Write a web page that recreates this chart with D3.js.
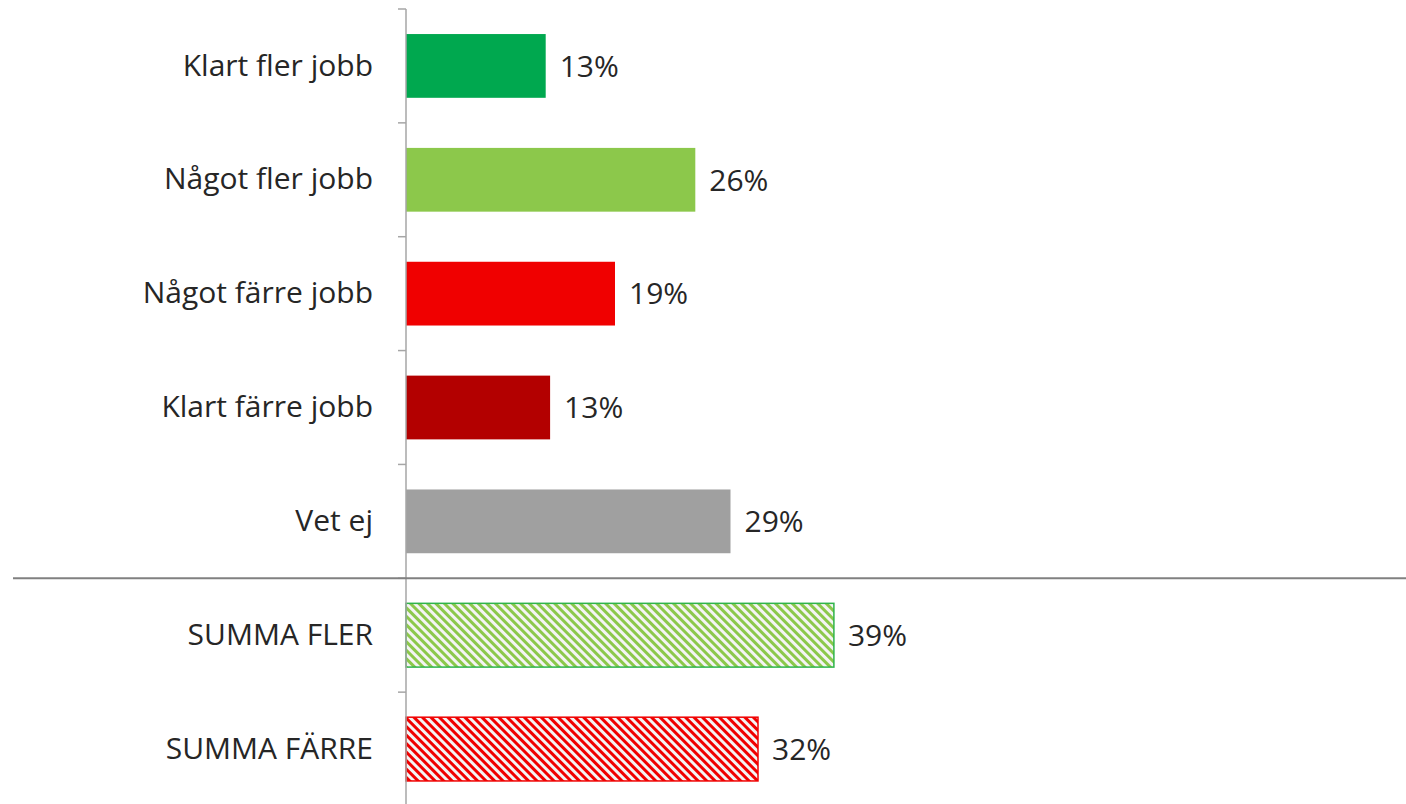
<!DOCTYPE html>
<html>
<head>
<meta charset="utf-8">
<script src="https://cdn.jsdelivr.net/npm/d3@7"></script>
<style>
  body { margin: 0; background: #fff; }
  text { font-family: "Open Sans", "Noto Sans", sans-serif; fill: #262626; }
</style>
</head>
<body>
<div id="chart"></div>
<script>
const categories = ["Klart fler jobb", "Något fler jobb", "Något färre jobb", "Klart färre jobb", "Vet ej", "SUMMA FLER", "SUMMA FÄRRE"];
const values = [12.7, 26.3, 19.0, 13.1, 29.5, 38.9, 32.0];
const valueLabels = ["13%", "26%", "19%", "13%", "29%", "39%", "32%"];
const fills = ["#00a84f", "#8cc84b", "#f00000", "#b30000", "#a0a0a0", "url(#hatchGreen)", "url(#hatchRed)"];
const strokes = ["none", "none", "none", "none", "none", "#2fb44a", "#f00000"];

const width = 1406;
const height = 804;

const svg = d3.select("#chart")
    .append("svg")
    .attr("width", width)
    .attr("height", height);

const defs = svg.append("defs");
function hatch(id, color) {
    const p = defs.append("pattern")
        .attr("id", id)
        .attr("patternUnits", "userSpaceOnUse")
        .attr("width", 6)
        .attr("height", 6)
        .attr("patternTransform", "rotate(-45)");
    p.append("rect").attr("width", 6).attr("height", 6).attr("fill", "#f4f4f4");
    p.append("rect").attr("width", 3).attr("height", 6).attr("fill", color);
}
hatch("hatchGreen", "#8cc84b");
hatch("hatchRed", "#f00000");

const axisX = 406;

const y = d3.scaleBand()
    .domain(categories)
    .range([9, 806])
    .paddingInner(0.44)
    .paddingOuter(0.22);

const x = d3.scaleLinear()
    .domain([0, 100])
    .range([axisX, axisX + 1100]);

const data = categories.map((c, i) => ({ cat: c, value: values[i], label: valueLabels[i], fill: fills[i], stroke: strokes[i] }));

// bars
svg.selectAll("rect.bar").data(data)
    .enter().append("rect")
    .attr("class", "bar")
    .attr("x", x(0))
    .attr("y", d => y(d.cat))
    .attr("width", d => x(d.value) - x(0))
    .attr("height", y.bandwidth())
    .attr("fill", d => d.fill)
    .attr("stroke", d => d.stroke)
    .attr("stroke-width", 1.5);

// value labels
svg.selectAll("text.val").data(data)
    .enter().append("text")
    .attr("class", "val")
    .attr("x", d => x(d.value) + 14)
    .attr("y", d => y(d.cat) + y.bandwidth() / 2)
    .attr("dy", "0.36em")
    .style("font-size", "30px")
    .text(d => d.label);

// category axis
const yAxis = svg.append("g")
    .attr("transform", `translate(${axisX},0)`)
    .call(d3.axisLeft(y).tickSize(0).tickPadding(33));
yAxis.select(".domain").remove();
yAxis.selectAll("text")
    .style("font-size", "30px")
    .attr("fill", "#262626");

// axis line and boundary ticks
const edges = categories.map(c => y(c) - y.step() * y.paddingOuter());
edges.push(y.range()[1]);
svg.append("line")
    .attr("x1", axisX).attr("x2", axisX)
    .attr("y1", edges[0]).attr("y2", height)
    .attr("stroke", "#a6a6a6").attr("stroke-width", 1.5);
svg.selectAll("line.tick").data(edges.slice(0, -1))
    .enter().append("line")
    .attr("class", "tick")
    .attr("x1", axisX - 8).attr("x2", axisX)
    .attr("y1", d => d).attr("y2", d => d)
    .attr("stroke", "#a6a6a6").attr("stroke-width", 1.5);

// separator between single answers and sums
const sepY = edges[5];
svg.append("line")
    .attr("x1", 13).attr("x2", width)
    .attr("y1", sepY).attr("y2", sepY)
    .attr("stroke", "#808080").attr("stroke-width", 2);
</script>
</body>
</html>
